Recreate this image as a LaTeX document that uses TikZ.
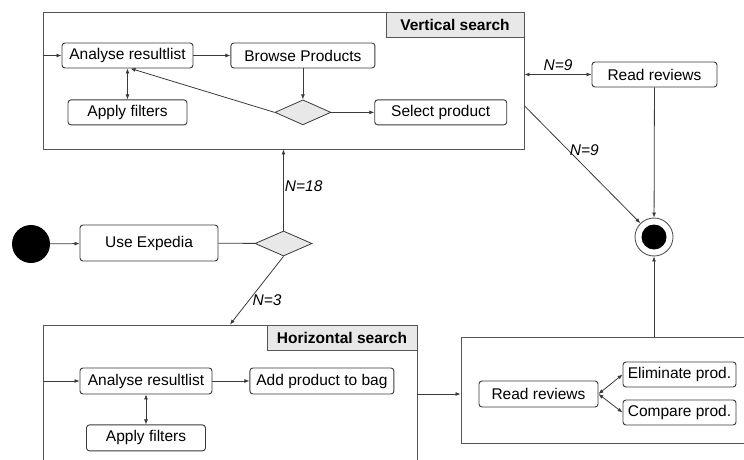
\documentclass[tikz,border=0pt]{standalone}
\usepackage{fontspec}
\setmainfont{Liberation Sans}
\usepackage{xcolor}
\usetikzlibrary{shapes.geometric,arrows.meta,positioning,calc}

\definecolor{linegray}{HTML}{3A3A3A}
\definecolor{framegray}{HTML}{555555}
\definecolor{tabgray}{HTML}{E8E8E8}

\begin{document}
\begin{tikzpicture}[
    x=1pt, y=-1pt,
    font=\fontsize{15.5}{18}\selectfont,
    box/.style={rectangle, rounded corners=3pt, draw=linegray, line width=0.9pt, fill=white, minimum height=25pt, inner sep=0pt, align=center},
    frame/.style={rectangle, draw=framegray, line width=0.9pt, inner sep=0pt},
    tab/.style={rectangle, draw=framegray, line width=0.9pt, fill=tabgray, inner sep=0pt, minimum height=25pt, font=\fontsize{15.5}{18}\selectfont\bfseries},
    choice/.style={diamond, draw=linegray, line width=0.8pt, fill=tabgray, inner sep=0pt, minimum width=56pt, minimum height=25pt},
    arrow/.style={-{Latex[length=5pt,width=4pt]}, draw=linegray, line width=0.8pt},
    darrow/.style={{Latex[length=5pt,width=4pt]}-{Latex[length=5pt,width=4pt]}, draw=linegray, line width=0.8pt},
    line/.style={draw=linegray, line width=0.8pt},
    count/.style={font=\fontsize{15.5}{18}\selectfont\itshape, inner sep=1pt}
]
\clip (0,0) rectangle (744,460);

% Vertical search
\node[frame, minimum width=481pt, minimum height=137pt] (vframe) at (283.5,80.5) {};
\node[tab, minimum width=138pt, anchor=north east] (vtab) at (vframe.north east) {Vertical search};
\node[box, minimum width=131pt] (va) at (127.5,55.5) {Analyse resultlist};
\node[box, minimum width=144pt, right=37pt of va] (vb) {Browse Products};
\node[box, minimum width=119pt, below=31pt of va] (vfil) {Apply filters};
\node[choice, below=31pt of vb] (vdec) {};
\node[box, minimum width=132pt, right=43pt of vdec] (vsel) {Select product};

\draw[arrow] (vframe.west |- va) -- (va);
\draw[arrow] (va) -- (vb);
\draw[arrow] (vb) -- (vdec);
\draw[arrow] (vdec) -- (vsel);
\draw[arrow] (vdec.west) -- ([xshift=3pt]va.south);
\draw[darrow] (va) -- (vfil);

% start and decision
\node[circle, fill=black, minimum size=38pt, inner sep=0pt] (start) at (31,244) {};
\node[box, minimum width=138pt, minimum height=36pt] (use) at (149,243) {Use Expedia};
\node[choice, minimum width=57pt] (dec) at (283.5,243.5) {};

\draw[arrow] (start) -- (use);
\draw[line] (use) -- (dec);
\draw[arrow] (dec.north) -- (dec |- vframe.south) node[count, pos=0.55, right] {N=18};

% final node
\node[circle, draw=framegray, line width=0.9pt, fill=white, minimum size=38pt, inner sep=0pt] (final) at (654,237) {};
\node[circle, fill=black, minimum size=25pt, inner sep=0pt] (finalin) at (final) {};
\node[box, minimum width=125pt] (rr) at (654.5,74.5) {Read reviews};

\draw[darrow] (vframe.east |- rr) -- (rr) node[count, midway, above=2pt] {N=9};
\draw[arrow] (vframe.-6) -- (final) node[count, pos=0.38, right] {N=9};
\draw[arrow] (rr) -- (final);

% Horizontal search
\node[frame, minimum width=374pt, minimum height=137pt] (hframe) at (230,393.5) {};
\node[tab, minimum width=150pt, anchor=north east] (htab) at (hframe.north east) {Horizontal search};
\node[box, minimum width=132pt, minimum height=26pt] (ha) at (146,381) {Analyse resultlist};
\node[box, minimum width=144pt, minimum height=26pt, right=37pt of ha] (hadd) {Add product to bag};
\node[box, minimum width=119pt, minimum height=26pt, below=30pt of ha] (hfil) {Apply filters};

\draw[arrow] (dec.south) -- (hframe.north) node[count, pos=0.64, right=2pt] {N=3};
\draw[arrow] (hframe.west |- ha) -- (ha);
\draw[arrow] (ha) -- (hadd);
\draw[darrow] (ha) -- (hfil);

% reviews box
\node[frame, minimum width=286pt, minimum height=106pt] (rbox) at (604,390) {};
\node[box, minimum width=119pt, minimum height=26pt] (rr2) at (538.5,394) {Read reviews};
\node[box, minimum width=113pt] (elim) at (679.5,374.5) {Eliminate prod.};
\node[box, minimum width=113pt] (comp) at (679.5,412.5) {Compare prod.};

\draw[arrow] (hframe.east |- rr2) -- (rbox.west |- rr2);
\draw[darrow] (rr2.east) -- (elim.west);
\draw[darrow] (rr2.east) -- (comp.west);
\draw[arrow] (final |- rbox.north) -- (final);
\end{tikzpicture}
\end{document}
